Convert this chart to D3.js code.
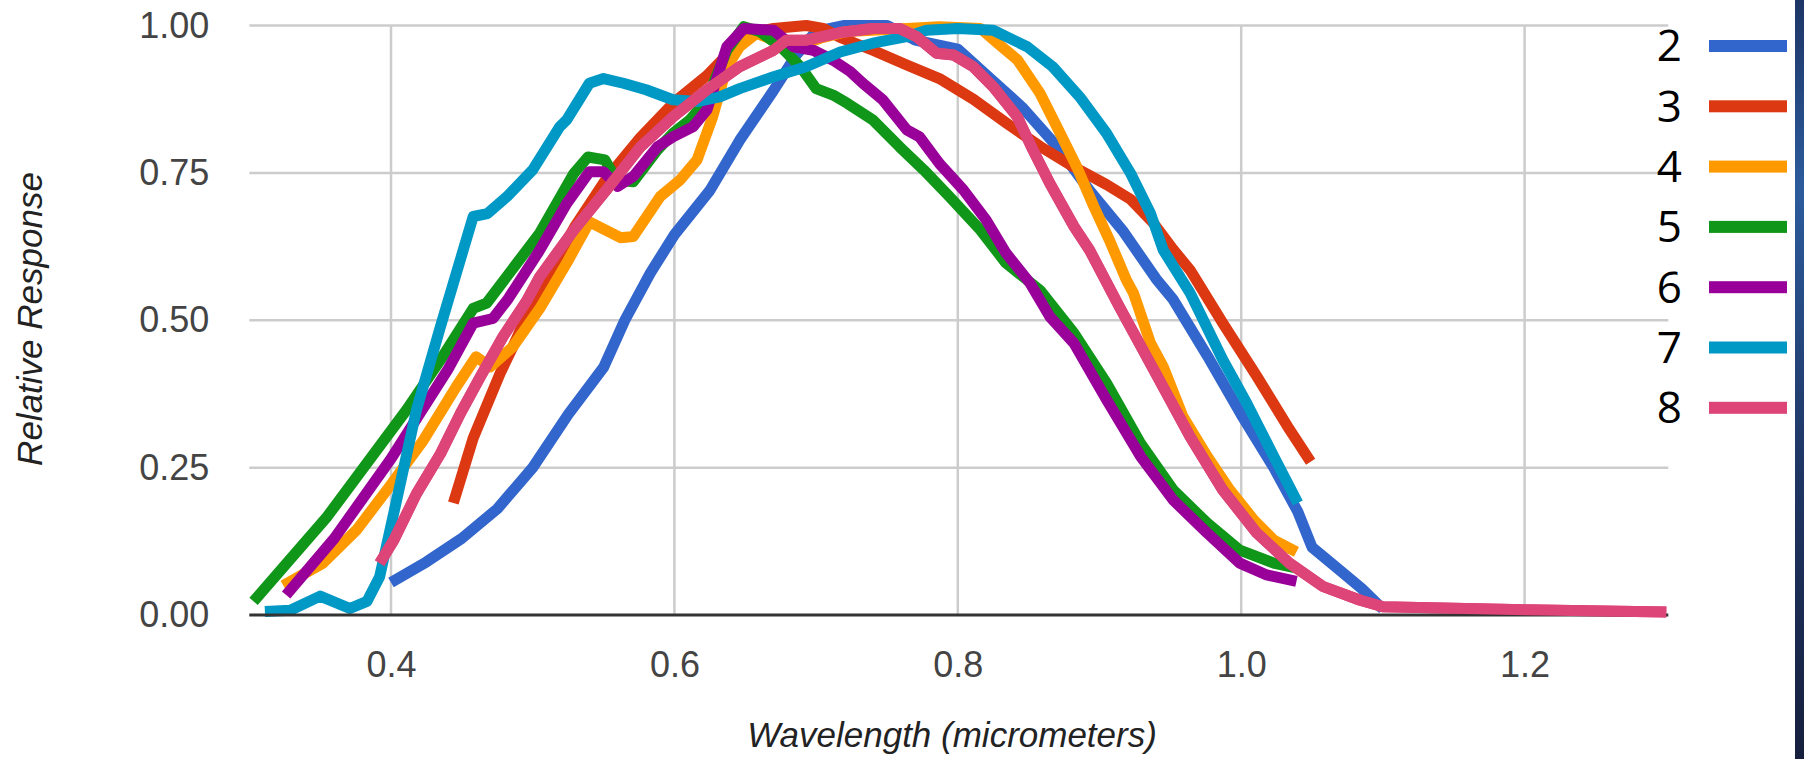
<!DOCTYPE html>
<html>
<head>
<meta charset="utf-8">
<script src="https://cdn.jsdelivr.net/npm/d3@7"></script>
<style>
  html, body { margin: 0; padding: 0; background: #fff; }
  svg { display: block; }
</style>
</head>
<body>
<svg id="chart" width="1804" height="759"></svg>
<script>
// ---------- data ----------
const seriesNames = ["2", "3", "4", "5", "6", "7", "8"];
const seriesColors = ["#3366cc", "#dc3912", "#ff9900", "#109618", "#990099", "#0099c6", "#dd4477"];

const series2 = [[0.40,0.055],[0.425,0.09],[0.45,0.13],[0.475,0.18],[0.50,0.25],[0.525,0.34],[0.55,0.42],[0.565,0.50],[0.583,0.58],[0.60,0.645],[0.625,0.72],[0.646,0.805],[0.67,0.89],[0.686,0.95],[0.70,0.99],[0.72,1.0],[0.75,1.0],[0.77,0.975],[0.80,0.96],[0.823,0.91],[0.846,0.86],[0.87,0.795],[0.893,0.72],[0.917,0.65],[0.94,0.57],[0.952,0.535],[0.976,0.44],[1.0,0.34],[1.023,0.25],[1.04,0.175],[1.05,0.115],[1.07,0.075],[1.085,0.045],[1.10,0.01]];
const series3 = [[0.444,0.19],[0.458,0.30],[0.477,0.41],[0.486,0.455],[0.50,0.53],[0.53,0.66],[0.552,0.74],[0.576,0.81],[0.60,0.87],[0.623,0.915],[0.637,0.95],[0.651,0.985],[0.67,0.995],[0.693,1.0],[0.705,0.995],[0.717,0.98],[0.74,0.958],[0.764,0.933],[0.787,0.91],[0.811,0.875],[0.834,0.835],[0.858,0.795],[0.882,0.76],[0.905,0.73],[0.922,0.705],[0.938,0.665],[0.952,0.62],[0.964,0.585],[0.987,0.495],[1.011,0.405],[1.034,0.315],[1.049,0.26]];
const series4 = [[0.324,0.05],[0.352,0.088],[0.376,0.145],[0.399,0.218],[0.423,0.297],[0.446,0.387],[0.46,0.438],[0.47,0.421],[0.486,0.455],[0.505,0.52],[0.524,0.597],[0.54,0.667],[0.562,0.64],[0.571,0.642],[0.59,0.71],[0.604,0.738],[0.616,0.772],[0.627,0.845],[0.637,0.93],[0.646,0.964],[0.658,0.987],[0.675,0.97],[0.689,0.967],[0.705,0.98],[0.722,0.99],[0.764,0.995],[0.787,0.998],[0.816,0.995],[0.828,0.97],[0.842,0.942],[0.858,0.885],[0.870,0.828],[0.884,0.76],[0.896,0.693],[0.907,0.636],[0.919,0.568],[0.924,0.546],[0.936,0.461],[0.945,0.421],[0.959,0.336],[0.976,0.269],[0.992,0.212],[1.009,0.161],[1.023,0.127],[1.039,0.107]];
const series5 = [[0.303,0.023],[0.355,0.167],[0.411,0.348],[0.435,0.433],[0.458,0.52],[0.4675,0.529],[0.505,0.648],[0.529,0.749],[0.539,0.777],[0.551,0.772],[0.559,0.738],[0.571,0.735],[0.588,0.789],[0.599,0.817],[0.611,0.84],[0.623,0.874],[0.637,0.958],[0.649,0.998],[0.66,0.99],[0.675,0.964],[0.689,0.93],[0.70,0.893],[0.712,0.882],[0.722,0.868],[0.74,0.84],[0.759,0.794],[0.776,0.755],[0.794,0.71],[0.816,0.653],[0.834,0.597],[0.858,0.551],[0.882,0.478],[0.905,0.393],[0.929,0.291],[0.952,0.212],[0.976,0.156],[0.999,0.11],[1.023,0.088],[1.04,0.079]];
const series6 = [[0.326,0.034],[0.36,0.13],[0.40,0.265],[0.44,0.416],[0.458,0.495],[0.472,0.503],[0.482,0.534],[0.505,0.619],[0.524,0.698],[0.54,0.752],[0.55,0.752],[0.56,0.727],[0.571,0.744],[0.588,0.794],[0.599,0.811],[0.613,0.828],[0.623,0.857],[0.637,0.964],[0.649,0.995],[0.67,0.992],[0.684,0.964],[0.698,0.958],[0.712,0.941],[0.724,0.922],[0.733,0.902],[0.747,0.874],[0.764,0.823],[0.773,0.811],[0.787,0.766],[0.804,0.721],[0.82,0.67],[0.834,0.614],[0.851,0.563],[0.865,0.506],[0.882,0.461],[0.905,0.365],[0.929,0.269],[0.952,0.195],[0.976,0.139],[0.999,0.088],[1.018,0.068],[1.039,0.057]];
const series7 = [[0.311,0.006],[0.329,0.008],[0.35,0.032],[0.371,0.011],[0.383,0.023],[0.392,0.065],[0.404,0.195],[0.418,0.348],[0.435,0.49],[0.458,0.676],[0.468,0.681],[0.482,0.71],[0.50,0.755],[0.519,0.828],[0.524,0.84],[0.54,0.902],[0.55,0.91],[0.564,0.902],[0.58,0.891],[0.599,0.874],[0.616,0.871],[0.632,0.879],[0.646,0.893],[0.67,0.913],[0.693,0.93],[0.717,0.955],[0.74,0.97],[0.764,0.981],[0.778,0.992],[0.80,0.995],[0.825,0.992],[0.849,0.964],[0.867,0.93],[0.886,0.879],[0.905,0.817],[0.922,0.749],[0.936,0.681],[0.945,0.619],[0.964,0.546],[0.987,0.433],[1.004,0.359],[1.023,0.269],[1.04,0.19]];
const series8 = [[0.392,0.088],[0.402,0.127],[0.418,0.206],[0.435,0.274],[0.449,0.342],[0.463,0.404],[0.479,0.472],[0.496,0.534],[0.505,0.574],[0.529,0.653],[0.552,0.721],[0.576,0.794],[0.599,0.845],[0.623,0.891],[0.646,0.93],[0.67,0.958],[0.679,0.975],[0.693,0.975],[0.717,0.988],[0.74,0.995],[0.759,0.995],[0.771,0.981],[0.785,0.953],[0.797,0.95],[0.811,0.93],[0.825,0.896],[0.842,0.845],[0.853,0.789],[0.865,0.732],[0.882,0.659],[0.893,0.619],[0.914,0.523],[0.941,0.404],[0.964,0.302],[0.987,0.212],[1.011,0.139],[1.034,0.088],[1.058,0.048],[1.084,0.025],[1.10,0.014],[1.2,0.009],[1.3,0.005]];

const xTicks = [0.4, 0.6, 0.8, 1.0, 1.2];
const yTicks = [0, 0.25, 0.5, 0.75, 1.0];
const xTitle = "Wavelength (micrometers)";
const yTitle = "Relative Response";

const allSeries = [series2, series3, series4, series5, series6, series7, series8];

// ---------- layout ----------
const svg = d3.select("#chart");
const x = d3.scaleLinear().domain([0.3, 1.3]).range([249.3, 1666.3]);
const y = d3.scaleLinear().domain([0, 1]).range([615, 25.5]);

// dark strip at right edge
const defs = svg.append("defs");
const grad = defs.append("linearGradient").attr("id", "edge").attr("x1", 0).attr("y1", 0).attr("x2", 0).attr("y2", 1);
grad.append("stop").attr("offset", "0%").attr("stop-color", "#1d3566");
grad.append("stop").attr("offset", "25%").attr("stop-color", "#2c5b9c");
grad.append("stop").attr("offset", "60%").attr("stop-color", "#1f3766");
grad.append("stop").attr("offset", "100%").attr("stop-color", "#161f3d");
svg.append("rect").attr("x", 1795).attr("y", 0).attr("width", 9).attr("height", 759).attr("fill", "url(#edge)");

// gridlines
const grid = svg.append("g");
grid.selectAll("line.vx").data(xTicks).join("line")
  .attr("x1", d => x(d)).attr("x2", d => x(d))
  .attr("y1", y(1)).attr("y2", y(0))
  .attr("stroke", "#cccccc").attr("stroke-width", 2.5);
grid.selectAll("line.hy").data(yTicks.filter(d => d > 0)).join("line")
  .attr("x1", x(0.3)).attr("x2", x(1.3) + 2)
  .attr("y1", d => y(d)).attr("y2", d => y(d))
  .attr("stroke", "#cccccc").attr("stroke-width", 2.5);

// axes using d3 axis generators (labels only)
const xAxis = d3.axisBottom(x).tickValues(xTicks).tickFormat(d3.format(".1f")).tickSize(0).tickPadding(36);
const yAxis = d3.axisLeft(y).tickValues(yTicks).tickFormat(d3.format(".2f")).tickSize(0).tickPadding(40);

const gx = svg.append("g").attr("transform", `translate(0,${y(0)})`).call(xAxis);
const gy = svg.append("g").attr("transform", `translate(${x(0.3)},0)`).call(yAxis);
[gx, gy].forEach(g => {
  g.select(".domain").remove();
  g.selectAll("text")
    .attr("fill", "#444444")
    .style("font-family", "'Liberation Sans', Arial, sans-serif")
    .style("font-size", "36px");
});
gx.selectAll("text").attr("dy", "0.71em");

// series lines
const line = d3.line().x(d => x(d[0])).y(d => y(d[1]));
svg.append("g").selectAll("path").data(allSeries).join("path")
  .attr("d", line)
  .attr("fill", "none")
  .attr("stroke", (d, i) => seriesColors[i])
  .attr("stroke-width", 11)
  .attr("stroke-linejoin", "round")
  .attr("stroke-linecap", "butt");

// baseline
svg.append("line")
  .attr("x1", x(0.3)).attr("x2", x(1.3) + 2)
  .attr("y1", y(0)).attr("y2", y(0))
  .attr("stroke", "#333333").attr("stroke-width", 3);

// series 8 tail drawn above the baseline as in the reference
svg.append("path").datum(series8).attr("d", line)
  .attr("fill", "none").attr("stroke", seriesColors[6]).attr("stroke-width", 11)
  .attr("stroke-linejoin", "round").attr("stroke-linecap", "butt");

// axis titles
svg.append("text")
  .attr("x", 952).attr("y", 747)
  .attr("text-anchor", "middle")
  .attr("fill", "#222222")
  .style("font-family", "'Liberation Sans', Arial, sans-serif")
  .style("font-style", "italic")
  .style("font-size", "35px")
  .text(xTitle);

svg.append("text")
  .attr("transform", "translate(42,319) rotate(-90)")
  .attr("text-anchor", "middle")
  .attr("fill", "#222222")
  .style("font-family", "'Liberation Sans', Arial, sans-serif")
  .style("font-style", "italic")
  .style("font-size", "35px")
  .text(yTitle);

// legend
const legend = svg.append("g");
const rows = legend.selectAll("g").data(seriesNames).join("g")
  .attr("transform", (d, i) => `translate(0,${46 + i * 60.3})`);
rows.append("text")
  .attr("x", 1682).attr("y", 0).attr("dy", "0.35em")
  .attr("text-anchor", "end")
  .attr("fill", "#000000")
  .style("font-family", "'Open Sans', 'Noto Sans', sans-serif")
  .style("font-size", "44px")
  .text(d => d);
rows.append("rect")
  .attr("x", 1709).attr("y", -6).attr("width", 78).attr("height", 12)
  .attr("fill", (d, i) => seriesColors[i]);
</script>
</body>
</html>
